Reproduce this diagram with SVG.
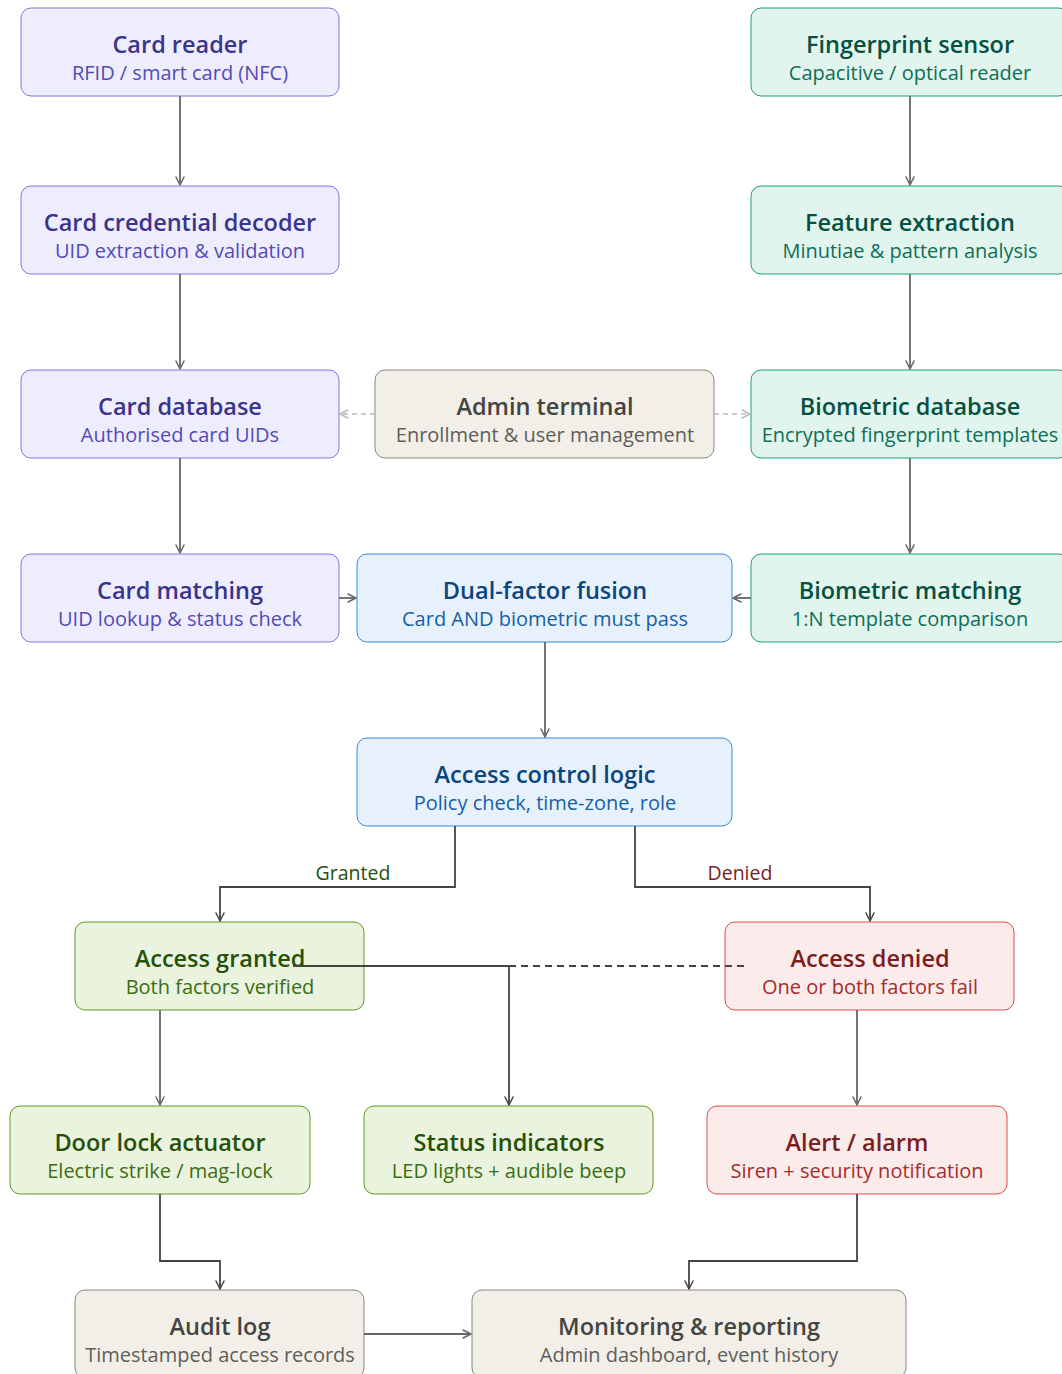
<svg xmlns="http://www.w3.org/2000/svg" width="1062" height="1374" viewBox="0 0 1062 1374">
<defs>
<marker id="ah" viewBox="0 0 10 10" refX="9" refY="5" markerWidth="10" markerHeight="10" markerUnits="userSpaceOnUse" orient="auto-start-reverse"><path d="M1 1 L9 5 L1 9" fill="none" stroke="context-stroke" stroke-width="1.5" stroke-linecap="round" stroke-linejoin="round"/></marker>
<style>
text{font-family:"Open Sans","Noto Sans","Liberation Sans",sans-serif;text-anchor:middle;dominant-baseline:central}
.t{font-size:23.5px;font-weight:600}
.s{font-size:20px;font-weight:400}
rect{stroke-width:1}
.pu rect{fill:#EEEDFE;stroke:#7F77DD}.pu .t{fill:#3C3489}.pu .s{fill:#534AB7}
.te rect{fill:#E1F5EE;stroke:#1D9E75}.te .t{fill:#085041}.te .s{fill:#0F6E56}
.gr rect{fill:#F1EFE8;stroke:#888780}.gr .t{fill:#444441}.gr .s{fill:#5F5E5A}
.bl rect{fill:#E6F1FB;stroke:#378ADD}.bl .t{fill:#0C447C}.bl .s{fill:#185FA5}
.gn rect{fill:#EAF3DE;stroke:#639922}.gn .t{fill:#27500A}.gn .s{fill:#3B6D11}
.rd rect{fill:#FCEBEB;stroke:#E24B4A}.rd .t{fill:#791F1F}.rd .s{fill:#A32D2D}
.e{fill:none;stroke:#666;stroke-width:1.8;marker-end:url(#ah)}
.d{fill:none;stroke:#444;stroke-width:1.8}
.ad{fill:none;stroke:#BBB;stroke-width:1.4;stroke-dasharray:5 4;marker-end:url(#ah)}
.lbl{font-size:19.5px}
</style>
</defs>
<rect width="1062" height="1374" fill="#fff"/>
<g id="n-card-reader" class="pu"><rect x="21" y="8" width="318" height="88" rx="10"/><text class="t" x="180" y="44">Card reader</text><text class="s" x="180" y="72">RFID / smart card (NFC)</text></g>
<g id="n-card-decoder" class="pu"><rect x="21" y="186" width="318" height="88" rx="10"/><text class="t" x="180" y="222">Card credential decoder</text><text class="s" x="180" y="250">UID extraction &amp; validation</text></g>
<g id="n-card-db" class="pu"><rect x="21" y="370" width="318" height="88" rx="10"/><text class="t" x="180" y="406">Card database</text><text class="s" x="180" y="434">Authorised card UIDs</text></g>
<g id="n-card-match" class="pu"><rect x="21" y="554" width="318" height="88" rx="10"/><text class="t" x="180" y="590">Card matching</text><text class="s" x="180" y="618">UID lookup &amp; status check</text></g>
<g id="n-fp-sensor" class="te"><rect x="751" y="8" width="318" height="88" rx="10"/><text class="t" x="910" y="44">Fingerprint sensor</text><text class="s" x="910" y="72">Capacitive / optical reader</text></g>
<g id="n-feature" class="te"><rect x="751" y="186" width="318" height="88" rx="10"/><text class="t" x="910" y="222">Feature extraction</text><text class="s" x="910" y="250">Minutiae &amp; pattern analysis</text></g>
<g id="n-bio-db" class="te"><rect x="751" y="370" width="318" height="88" rx="10"/><text class="t" x="910" y="406">Biometric database</text><text class="s" x="910" y="434">Encrypted fingerprint templates</text></g>
<g id="n-bio-match" class="te"><rect x="751" y="554" width="318" height="88" rx="10"/><text class="t" x="910" y="590">Biometric matching</text><text class="s" x="910" y="618">1:N template comparison</text></g>
<g id="n-admin" class="gr"><rect x="375" y="370" width="339" height="88" rx="10"/><text class="t" x="545" y="406">Admin terminal</text><text class="s" x="545" y="434">Enrollment &amp; user management</text></g>
<g id="n-fusion" class="bl"><rect x="357" y="554" width="375" height="88" rx="10"/><text class="t" x="545" y="590">Dual-factor fusion</text><text class="s" x="545" y="618">Card AND biometric must pass</text></g>
<g id="n-acl" class="bl"><rect x="357" y="738" width="375" height="88" rx="10"/><text class="t" x="545" y="774">Access control logic</text><text class="s" x="545" y="802">Policy check, time-zone, role</text></g>
<g id="n-granted" class="gn"><rect x="75" y="922" width="289" height="88" rx="10"/><text class="t" x="220" y="958">Access granted</text><text class="s" x="220" y="986">Both factors verified</text></g>
<g id="n-denied" class="rd"><rect x="725" y="922" width="289" height="88" rx="10"/><text class="t" x="870" y="958">Access denied</text><text class="s" x="870" y="986">One or both factors fail</text></g>
<g id="n-door" class="gn"><rect x="10" y="1106" width="300" height="88" rx="10"/><text class="t" x="160" y="1142">Door lock actuator</text><text class="s" x="160" y="1170">Electric strike / mag-lock</text></g>
<g id="n-status" class="gn"><rect x="364" y="1106" width="289" height="88" rx="10"/><text class="t" x="509" y="1142">Status indicators</text><text class="s" x="509" y="1170">LED lights + audible beep</text></g>
<g id="n-alert" class="rd"><rect x="707" y="1106" width="300" height="88" rx="10"/><text class="t" x="857" y="1142">Alert / alarm</text><text class="s" x="857" y="1170">Siren + security notification</text></g>
<g id="n-audit" class="gr"><rect x="75" y="1290" width="289" height="88" rx="10"/><text class="t" x="220" y="1326">Audit log</text><text class="s" x="220" y="1354">Timestamped access records</text></g>
<g id="n-monitor" class="gr"><rect x="472" y="1290" width="434" height="88" rx="10"/><text class="t" x="689" y="1326">Monitoring &amp; reporting</text><text class="s" x="689" y="1354">Admin dashboard, event history</text></g>
<g id="connectors">
<path class="e" d="M180 96 V185"/>
<path class="e" d="M180 274 V369"/>
<path class="e" d="M180 458 V553"/>
<path class="e" d="M910 96 V185"/>
<path class="e" d="M910 274 V369"/>
<path class="e" d="M910 458 V553"/>
<path class="e" d="M339 598 H356"/>
<path class="e" d="M751 598 H733"/>
<path class="ad" d="M375 414 H340"/>
<path class="ad" d="M714 414 H750"/>
<path class="e" d="M545 642 V737"/>
<path class="d" style="marker-end:url(#ah)" d="M455 826 V887 H220 V921"/>
<path class="d" style="marker-end:url(#ah)" d="M635 826 V887 H870 V921"/>
<text class="lbl" x="353" y="872" fill="#27500A">Granted</text>
<text class="lbl" x="740" y="872" fill="#791F1F">Denied</text>
<path class="d" style="marker-end:url(#ah)" d="M293 966 H509 V1105"/>
<path class="d" stroke-dasharray="7 5" d="M744 966 H509"/>
<path class="e" d="M160 1010 V1105"/>
<path class="e" d="M857 1010 V1105"/>
<path class="d" style="marker-end:url(#ah)" d="M160 1194 V1261 H220 V1289"/>
<path class="d" style="marker-end:url(#ah)" d="M857 1194 V1261 H689 V1289"/>
<path class="e" d="M364 1334 H471"/>
</g>
</svg>
